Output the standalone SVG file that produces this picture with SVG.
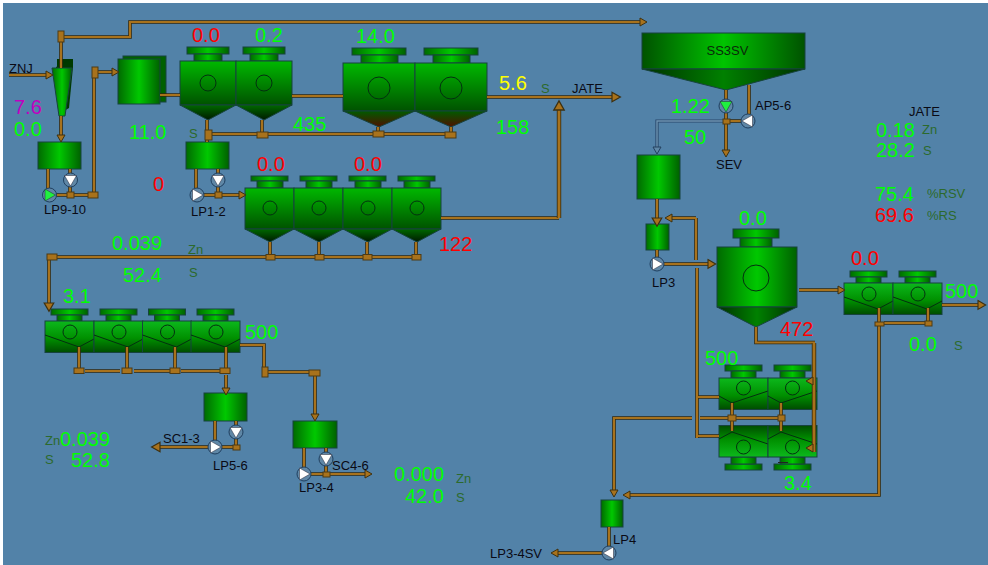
<svg xmlns="http://www.w3.org/2000/svg" xmlns:xlink="http://www.w3.org/1999/xlink" width="988" height="565" viewBox="0 0 988 565">
<style>
text{font-family:"Liberation Sans",Arial,sans-serif}
.v{font-size:20px}
.g{fill:#00ff00}.r{fill:#ff0000}.y{fill:#ffff00}.m{fill:#c000c0}
.u{font-size:13px;fill:#2c6a2c}
.l{font-size:13px;fill:#0a0a14}
.e{stroke:#17433f;stroke-width:1}
.h{fill:url(#hgrad)}
.c{fill:none;stroke:#043010;stroke-width:1}
.j{fill:#a8721c;stroke:#4d3a14;stroke-width:1}
.a{fill:#a8721c;stroke:#3d3010;stroke-width:1}
.pc{fill:#5f87a6;stroke:#1f3f5f;stroke-width:1}
.pw{fill:#fff;stroke:#223;stroke-width:.5}
.pg{fill:#20f040;stroke:#223;stroke-width:.5}
</style>
<defs>
<linearGradient id="hgrad"><stop offset="0" stop-color="#006a00"/><stop offset=".5" stop-color="#00c800"/><stop offset="1" stop-color="#006000"/></linearGradient>
<linearGradient id="silo"><stop offset="0" stop-color="#005200"/><stop offset=".5" stop-color="#00c400"/><stop offset="1" stop-color="#005200"/></linearGradient>
<linearGradient id="silo2"><stop offset="0" stop-color="#003000"/><stop offset=".5" stop-color="#008000"/><stop offset="1" stop-color="#003000"/></linearGradient>
<linearGradient id="vgrad" x2="0" y2="1"><stop offset="0" stop-color="#00b800"/><stop offset="1" stop-color="#005200"/></linearGradient>
<linearGradient id="fgrad" x2="0" y2="1"><stop offset="0" stop-color="#0cb81c"/><stop offset=".55" stop-color="#009000"/><stop offset="1" stop-color="#004c00"/></linearGradient>
<linearGradient id="cone" x2="0" y2="1"><stop offset="0" stop-color="#006800"/><stop offset="1" stop-color="#001a00"/></linearGradient>
<linearGradient id="coneR" x2="0" y2="1"><stop offset="0" stop-color="#005a00"/><stop offset="1" stop-color="#501000"/></linearGradient>
<g id="cell56"><rect class="h e" x="7" y="-14" width="42" height="7"/><rect class="h e" x="14" y="-7" width="28" height="7"/><rect x="0" y="0" width="56" height="44" fill="url(#vgrad)" class="e"/><polygon points="0,44 56,44 28,59" fill="url(#cone)" class="e"/><circle class="c" cx="28" cy="22" r="8"/></g>
<g id="cell72"><rect class="h e" x="9" y="-15" width="54" height="7"/><rect class="h e" x="18" y="-8" width="37" height="8"/><rect x="0" y="0" width="72" height="48" fill="url(#vgrad)" class="e"/><polygon points="0,48 72,48 36,64" fill="url(#coneR)" class="e"/><circle class="c" cx="36" cy="25" r="11"/></g>
<g id="cell49"><rect class="h e" x="6" y="-12" width="37" height="5"/><rect class="h e" x="12" y="-7" width="26" height="7"/><rect x="0" y="0" width="49" height="41" fill="url(#vgrad)" class="e"/><polygon points="0,41 49,41 25,54" fill="url(#cone)" class="e"/><circle class="c" cx="25" cy="20" r="7"/></g>
<g id="flotA"><rect class="h e" x="6" y="-12" width="37" height="6"/><rect class="h e" x="12" y="-6" width="25" height="6"/><rect x="0" y="0" width="49" height="31.500" fill="url(#fgrad)" class="e"/><polyline class="c" points="0,14 34,26 49,18"/><circle class="c" cx="25" cy="11" r="7"/></g>
<g id="flotB"><rect class="h e" x="6" y="-13" width="37" height="6"/><rect class="h e" x="12" y="-7" width="25" height="7"/><rect x="0" y="0" width="49" height="31.500" fill="url(#fgrad)" class="e"/><polyline class="c" points="0,18 13,25 49,13"/><circle class="c" cx="24.500" cy="10" r="7"/></g>
<polygon id="ah" class="a" points="0,-4 7,0 0,4"/>
<g id="pumpR"><circle class="pc" r="7"/><polygon class="pw" points="-4.500,-6 6,0 -4.500,6"/></g>
<g id="pumpRg"><circle class="pc" r="7"/><polygon class="pg" points="-4.500,-6 6,0 -4.500,6"/></g>
<g id="pipes-brown" fill="none" stroke-linejoin="miter">
<path d="M61 37H130V22H640"/><path d="M61 31V68"/><path d="M9 75H46"/><path d="M61 116V135"/>
<path d="M48 169V190M70 169V174M70 186V193M56 195H90M94 193V72M97 72H112"/>
<path d="M160 95H180M292 96H343"/>
<path d="M207 120V142M212 134H445M262 120V132M378 127V131M451 127V132"/>
<path d="M196 169V190M218 169V174M218 186V193M203 195H239"/>
<path d="M487 97H612M441 218H559"/>
<path d="M51 257H416M270 242V255M319 242V255M367 242V255M416 242V255M49 259V303"/>
<path d="M79 347V368M127 347V368M175 347V368M226 347V368M85 371H120M134 371H170M181 371H220M226 375V388"/>
<path d="M240 345H264V367M268 372H310M315 376V414"/>
<path d="M215 421V441M236 421V425M236 439V445M222 447H233M208 447H160"/>
<path d="M304 448V468M326 448V452M326 466V472M311 474H365"/>
<path d="M726 90V100M726 113V150M730 121H741M749 85V114"/>
<path d="M657 199V218M657 250V258M664 264H708M696 218H672M696 218V260M697 268V438M698 397H719M698 436H719"/>
<path d="M799 290H838"/>
<path d="M879 308V322M928 308V321M884 323H925M942 305H978M879 326V495H630"/>
<path d="M756 327V342.500H815"/>
<path d="M732 403V431M781 403V431M736 418H778M700 418H728M692 418H614V490"/>
<path d="M609 527V548M603 553H558"/>
</g>
<path id="pipes-thick" fill="none" d="M559 218V110M814 343V452"/>
</defs>
<rect width="988" height="565" fill="#fff"/>
<rect id="background" x="3" y="3" width="985" height="562" fill="#5282a8"/>

<g id="cyclone">
<rect x="57" y="59" width="16" height="8" fill="#003800"/>
<polygon points="56,67 73,59 73,67 69,108 62,112" fill="#003a00"/>
<polygon points="52,68 72,68 65,116 59,116" fill="url(#hgrad)" stroke="#17433f"/>
</g>
<g id="tank-LP9-10"><rect class="h e" x="38" y="142" width="43" height="27"/></g>
<g id="tank-feed"><rect x="123" y="56" width="43" height="46" fill="#006000" class="e"/><rect class="h e" x="118" y="59" width="42" height="45"/></g>
<g id="cells-row1"><use href="#cell56" x="180" y="61"/><use href="#cell56" x="236" y="61"/></g>
<g id="cells-row2"><use href="#cell72" x="343" y="63"/><use href="#cell72" x="415" y="63"/></g>
<g id="tank-LP1-2"><rect class="h e" x="186" y="142" width="43" height="27"/></g>
<g id="cells-row3"><use href="#cell49" x="245" y="188"/><use href="#cell49" x="294" y="188"/><use href="#cell49" x="343" y="188"/><use href="#cell49" x="392" y="188"/></g>
<g id="cells-row4"><use href="#flotA" x="45" y="321"/><use href="#flotA" x="94" y="321"/><use href="#flotA" x="142.500" y="321"/><use href="#flotA" x="191" y="321"/></g>
<g id="tank-LP5-6"><rect class="h e" x="204" y="393" width="43" height="28"/></g>
<g id="tank-LP3-4"><rect class="h e" x="293" y="421" width="44" height="27"/></g>
<g id="silo-SS3SV"><rect x="642" y="33" width="163" height="36" fill="url(#silo)" class="e"/><polygon points="642,69 805,69 726,90" fill="url(#silo2)" class="e"/><text x="727.500" y="55" text-anchor="middle" style="font-size:13px" fill="#0a2a0a">SS3SV</text></g>
<g id="tank-SEV"><rect class="h e" x="637" y="155" width="43" height="44"/></g>
<g id="tank-LP3"><rect class="h e" x="646" y="224" width="23" height="26"/></g>
<g id="vessel"><rect class="h e" x="733" y="229" width="46" height="9"/><rect class="h e" x="740" y="238" width="32" height="9"/><rect class="h e" x="717" y="247" width="80" height="60"/><polygon points="717,307 797,307 756,327" fill="url(#silo2)" class="e"/><circle class="c" cx="756" cy="278" r="13"/></g>
<g id="cells-right"><use href="#flotA" x="844" y="283"/><use href="#flotA" x="893" y="283"/></g>
<g id="cells-upper"><use href="#flotB" x="719" y="378"/><use href="#flotB" x="768" y="378"/></g>
<g id="cells-lower"><use href="#flotB" transform="translate(719,457) scale(1,-1)"/><use href="#flotB" transform="translate(768,457) scale(1,-1)"/><rect x="778" y="462" width="10" height="1" fill="#222"/></g>
<g id="tank-LP4"><rect class="h e" x="601" y="500" width="22" height="27"/></g>

<g id="connectors">
<use href="#pipes-brown" stroke="#33280e" stroke-width="3.600"/>
<use href="#pipes-brown" stroke="#a8721c" stroke-width="2.100"/>
<use href="#pipes-thick" stroke="#33280e" stroke-width="4.400"/>
<use href="#pipes-thick" stroke="#a8721c" stroke-width="2.800"/>
<path d="M723 121H657V147" fill="none" stroke="#28466a" stroke-width="3.200"/>
<path d="M723 121H657V147" fill="none" stroke="#6d94b2" stroke-width="1.400"/>
<polygon points="653,147 661,147 657,154" fill="#5f87a6" stroke="#23405f"/>
<use href="#ah" transform="translate(640,22)"/>
<use href="#ah" transform="translate(46,75)"/>
<use href="#ah" transform="translate(61,135) rotate(90)"/>
<use href="#ah" transform="translate(112,72)"/>
<use href="#ah" transform="translate(239,195)"/>
<use href="#ah" transform="translate(612,97) scale(1.200)"/>
<use href="#ah" transform="translate(559,110) rotate(-90) scale(1.300)"/>
<use href="#ah" transform="translate(49,303) rotate(90) scale(1.200)"/>
<use href="#ah" transform="translate(226,388) rotate(90)"/>
<use href="#ah" transform="translate(315,414) rotate(90)"/>
<use href="#ah" transform="translate(160,447) rotate(180) scale(1.200)"/>
<use href="#ah" transform="translate(365,474)"/>
<use href="#ah" transform="translate(726,150) rotate(90)"/>
<use href="#ah" transform="translate(657,218) rotate(90) scale(1.200)"/>
<use href="#ah" transform="translate(672,218) rotate(180)"/>
<use href="#ah" transform="translate(708,264) scale(1.100)"/>
<use href="#ah" transform="translate(838,290)"/>
<use href="#ah" transform="translate(978,305) scale(1.100)"/>
<use href="#ah" transform="translate(630,495) rotate(180)"/>
<use href="#ah" transform="translate(614,490) rotate(90)"/>
<use href="#ah" transform="translate(558,553) rotate(180)"/>
<use href="#ah" transform="translate(813,381) rotate(180)"/>
<use href="#ah" transform="translate(813,448) rotate(180)"/>
<rect class="j" x="58" y="31" width="6" height="11"/>
<rect class="j" x="92" y="67" width="6" height="11"/>
<rect class="j" x="88" y="192" width="10" height="6"/>
<rect class="j" x="205" y="130" width="7" height="10"/>
<rect class="j" x="257" y="132" width="11" height="6"/>
<rect class="j" x="373" y="131" width="11" height="6"/>
<rect class="j" x="445" y="132" width="11" height="6"/>
<rect class="j" x="215" y="192" width="7" height="6"/>
<rect class="j" x="67" y="192" width="7" height="6"/>
<rect class="j" x="47" y="254" width="10" height="6"/>
<rect class="j" x="266" y="254.500" width="9" height="5.500"/>
<rect class="j" x="315" y="254.500" width="9" height="5.500"/>
<rect class="j" x="363" y="254.500" width="9" height="5.500"/>
<rect class="j" x="412" y="254.500" width="9" height="5.500"/>
<rect class="j" x="74" y="368" width="10" height="5.500"/>
<rect class="j" x="122" y="368" width="10" height="5.500"/>
<rect class="j" x="170" y="368" width="10" height="5.500"/>
<rect class="j" x="220" y="368" width="10" height="5.500"/>
<rect class="j" x="262" y="367" width="6" height="10"/>
<rect class="j" x="309" y="370" width="11" height="6"/>
<rect class="j" x="233" y="445" width="7" height="5"/>
<rect class="j" x="323" y="472" width="7" height="5"/>
<rect class="j" x="723" y="119" width="7" height="5"/>
<rect class="j" x="875" y="322" width="9" height="4"/>
<rect class="j" x="925" y="321" width="7" height="5"/>
<rect class="j" x="728" y="415" width="8" height="6"/>
<rect class="j" x="778" y="415" width="7" height="6"/>
</g>

<g id="pump-LP9"><use href="#pumpRg" x="49.500" y="195"/></g>
<g id="pump-LP10"><use href="#pumpR" transform="translate(70.500,180) rotate(90)"/></g>
<g id="pump-LP1"><use href="#pumpR" x="197" y="195"/></g>
<g id="pump-LP2"><use href="#pumpR" transform="translate(218,180) rotate(90)"/></g>
<g id="pump-LP5"><use href="#pumpR" x="215" y="447"/></g>
<g id="pump-LP6"><use href="#pumpR" transform="translate(236,432) rotate(90)"/></g>
<g id="pump-LP3b"><use href="#pumpR" x="304" y="474"/></g>
<g id="pump-LP4b"><use href="#pumpR" transform="translate(326,459) rotate(90)"/></g>
<g id="pump-AP5"><use href="#pumpRg" transform="translate(726,106) rotate(90)"/></g>
<g id="pump-AP6"><use href="#pumpR" transform="translate(748,121) rotate(180)"/></g>
<g id="pump-LP3"><use href="#pumpR" x="657" y="264"/></g>
<g id="pump-LP4"><use href="#pumpR" transform="translate(609,553) rotate(180)"/></g>

<g id="labels">
<text class="l" x="9" y="73">ZNJ</text>
<text class="l" x="44" y="214">LP9-10</text>
<text class="l" x="191" y="216">LP1-2</text>
<text class="l" x="572" y="93">JATE</text>
<text class="l" x="755" y="110">AP5-6</text>
<text class="l" x="716" y="169">SEV</text>
<text class="l" x="652" y="287">LP3</text>
<text class="l" x="163" y="443">SC1-3</text>
<text class="l" x="213" y="470">LP5-6</text>
<text class="l" x="332" y="470">SC4-6</text>
<text class="l" x="299" y="492">LP3-4</text>
<text class="l" x="613" y="544">LP4</text>
<text class="l" x="490" y="558">LP3-4SV</text>
<text class="l" x="909" y="116">JATE</text>
<text class="u" x="189" y="138">S</text>
<text class="u" x="541" y="93">S</text>
<text class="u" x="188" y="254">Zn</text>
<text class="u" x="189" y="277">S</text>
<text class="u" x="45" y="445">Zn</text>
<text class="u" x="45" y="464">S</text>
<text class="u" x="456" y="483">Zn</text>
<text class="u" x="456" y="502">S</text>
<text class="u" x="954" y="350">S</text>
<text class="u" x="922" y="134">Zn</text>
<text class="u" x="923" y="155">S</text>
<text class="u" x="927" y="198">%RSV</text>
<text class="u" x="927" y="220">%RS</text>
<text class="v m" x="14" y="114">7.6</text>
<text class="v g" x="14" y="136">0.0</text>
<text class="v g" x="129" y="139">11.0</text>
<text class="v r" x="153" y="191">0</text>
<text class="v r" x="192" y="42">0.0</text>
<text class="v g" x="255" y="42">0.2</text>
<text class="v g" x="356" y="43">14.0</text>
<text class="v y" x="499" y="90">5.6</text>
<text class="v g" x="496" y="134">158</text>
<text class="v g" x="293" y="131">435</text>
<text class="v r" x="257" y="171">0.0</text>
<text class="v r" x="354" y="171">0.0</text>
<text class="v r" x="439" y="251">122</text>
<text class="v g" x="112" y="250">0.039</text>
<text class="v g" x="123" y="282">52.4</text>
<text class="v g" x="63" y="303">3.1</text>
<text class="v g" x="245" y="339">500</text>
<text class="v g" x="60" y="446">0.039</text>
<text class="v g" x="71" y="467">52.8</text>
<text class="v g" x="394" y="481">0.000</text>
<text class="v g" x="405" y="503">42.0</text>
<text class="v g" x="671" y="113">1.22</text>
<text class="v g" x="684" y="144">50</text>
<text class="v g" x="876" y="137">0.18</text>
<text class="v g" x="876" y="157">28.2</text>
<text class="v g" x="875" y="201">75.4</text>
<text class="v r" x="875" y="222">69.6</text>
<text class="v g" x="739" y="225">0.0</text>
<text class="v r" x="851" y="265">0.0</text>
<text class="v g" x="945" y="298">500</text>
<text class="v g" x="909" y="351">0.0</text>
<text class="v r" x="780" y="336">472</text>
<text class="v g" x="705" y="365">500</text>
<text class="v g" x="784" y="490">3.4</text>
</g>
</svg>
